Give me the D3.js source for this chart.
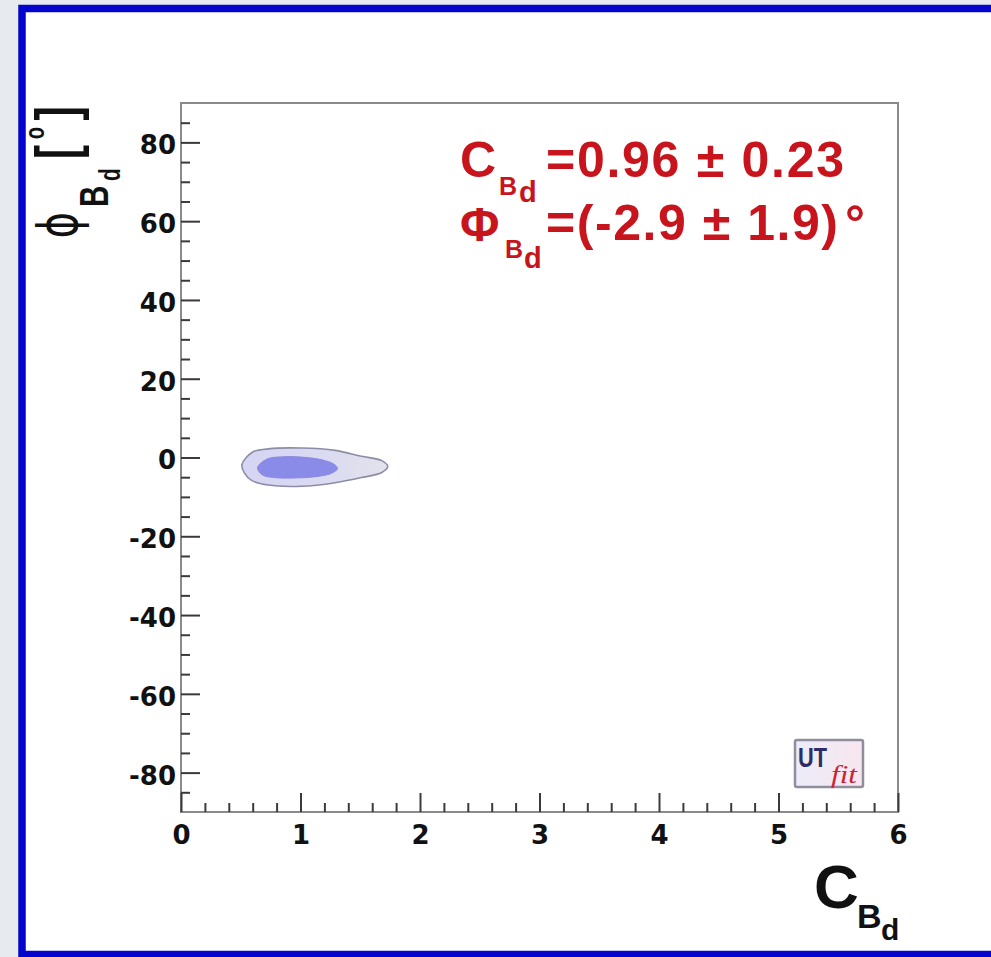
<!DOCTYPE html>
<html>
<head>
<meta charset="utf-8">
<script src="https://cdn.jsdelivr.net/npm/d3@7"></script>
<style>
  html, body { margin: 0; padding: 0; background: #e7eaef; }
  svg { display: block; }
</style>
</head>
<body>
<svg id="chart" width="991" height="957" font-family="'Liberation Sans', Arial, Helvetica, sans-serif"></svg>
<script>
// Axis ranges and tick values
const xDomain = [0, 6];
const yDomain = [-90, 90];
const xMajorTicks = [0, 1, 2, 3, 4, 5, 6];
const yMajorTicks = [-80, -60, -40, -20, 0, 20, 40, 60, 80];
const xMinorStep = 0.2;
const yMinorStep = 5;

// 95% probability region (outer contour) in (C_Bd, phi_Bd [deg])
const outerC   = [0.51, 0.60, 0.73, 1.01, 1.29, 1.51, 1.68, 1.73, 1.68, 1.51, 1.29, 1.01, 0.73, 0.59, 0.53];
const outerPhi = [-1.8, 1.4, 2.2, 2.4, 1.8, 0.3, -0.8, -2.3, -3.8, -5.1, -6.4, -7.3, -7.0, -5.8, -3.9];

// 68% probability region (inner contour)
const innerC   = [0.64, 0.72, 0.87, 1.01, 1.18, 1.28, 1.31, 1.26, 1.12, 0.95, 0.78, 0.68];
const innerPhi = [-2.6, -0.4, 0.2, 0.1, -0.6, -1.7, -2.8, -4.0, -4.9, -5.2, -5.1, -4.4];

// Fit results printed on the plot
const cValue = "0.96", cError = "0.23";
const phiValue = "-2.9", phiError = "1.9";

const SANS = "'Liberation Sans', Arial, Helvetica, sans-serif";
const WIDE = "'DejaVu Sans', sans-serif";
const SERIF = "'Liberation Serif', 'DejaVu Serif', serif";

const svg = d3.select("#chart");

// Page panel with blue border
svg.append("rect")
  .attr("x", 22).attr("y", 8.5)
  .attr("width", 1000).attr("height", 946)
  .attr("fill", "#ffffff")
  .attr("stroke", "#0404cc")
  .attr("stroke-width", 7.5);

const x = d3.scaleLinear().domain(xDomain).range([181, 898]);
const y = d3.scaleLinear().domain(yDomain).range([812, 103]);

// Gradients for the outer region and the logo box
const defs = svg.append("defs");
const g1 = defs.append("linearGradient").attr("id", "outerFill")
  .attr("x1", "0%").attr("x2", "100%").attr("y1", "0%").attr("y2", "0%");
g1.append("stop").attr("offset", "0%").attr("stop-color", "#d5d5f4");
g1.append("stop").attr("offset", "55%").attr("stop-color", "#dadaf2");
g1.append("stop").attr("offset", "100%").attr("stop-color", "#e3e3ea");
const g2 = defs.append("linearGradient").attr("id", "logoFill")
  .attr("x1", "0%").attr("x2", "100%").attr("y1", "0%").attr("y2", "0%");
g2.append("stop").attr("offset", "0%").attr("stop-color", "#ececf8");
g2.append("stop").attr("offset", "100%").attr("stop-color", "#f8e6ee");

// Probability regions
const region = d3.line()
  .x(d => x(d[0]))
  .y(d => y(d[1]))
  .curve(d3.curveCatmullRomClosed.alpha(0.5));

svg.append("path")
  .datum(d3.zip(outerC, outerPhi))
  .attr("d", region)
  .attr("fill", "url(#outerFill)")
  .attr("stroke", "#8c8ca8")
  .attr("stroke-width", 1.6);

svg.append("path")
  .datum(d3.zip(innerC, innerPhi))
  .attr("d", region)
  .attr("fill", "#8a8ae8")
  .attr("stroke", "#8a8ae0")
  .attr("stroke-width", 1);

// Frame
svg.append("rect")
  .attr("x", x(xDomain[0])).attr("y", y(yDomain[1]))
  .attr("width", x(xDomain[1]) - x(xDomain[0]))
  .attr("height", y(yDomain[0]) - y(yDomain[1]))
  .attr("fill", "none")
  .attr("stroke", "#8a8a8a")
  .attr("stroke-width", 2);

const xMinor = d3.range(xDomain[0], xDomain[1] + 1e-9, xMinorStep)
  .filter(v => Math.abs(v - Math.round(v)) > 1e-6 && v > 0 && v < 6);
const yMinor = d3.range(yDomain[0], yDomain[1] + 1e-9, yMinorStep)
  .filter(v => v % 20 !== 0 && v > yDomain[0] && v < yDomain[1]);

function styleAxis(g) {
  g.select(".domain").remove();
  g.selectAll(".tick line").attr("stroke", "#3a3a3a").attr("stroke-width", 2);
  g.selectAll(".tick text")
    .attr("fill", "#111")
    .style("font-size", "26px")
    .style("font-weight", "bold")
    .style("font-family", WIDE);
}
const plainInt = d => String(d);

// Bottom axis: ticks pointing inward
svg.append("g")
  .attr("transform", `translate(0,${y(yDomain[0])})`)
  .call(d3.axisBottom(x).tickValues(xMinor).tickSize(-9).tickFormat(""))
  .call(styleAxis);
svg.append("g")
  .attr("transform", `translate(0,${y(yDomain[0])})`)
  .call(d3.axisBottom(x).tickValues(xMajorTicks).tickSize(-19).tickPadding(14)
        .tickFormat(plainInt))
  .call(styleAxis);

// Left axis: ticks pointing inward
svg.append("g")
  .attr("transform", `translate(${x(xDomain[0])},0)`)
  .call(d3.axisLeft(y).tickValues(yMinor).tickSize(-9).tickFormat(""))
  .call(styleAxis);
svg.append("g")
  .attr("transform", `translate(${x(xDomain[0])},0)`)
  .call(d3.axisLeft(y).tickValues(yMajorTicks).tickSize(-19).tickPadding(5)
        .tickFormat(plainInt))
  .call(styleAxis)
  .selectAll(".tick text").attr("dy", "0.44em");

// X axis title: C_{B_d}
const xt = svg.append("g").attr("fill", "#111").style("font-weight", "bold")
  .style("font-family", SANS);
xt.append("text").attr("x", 814).attr("y", 908).style("font-size", "62px").text("C");
xt.append("text").attr("x", 857).attr("y", 928).style("font-size", "34px").text("B");
xt.append("text").attr("x", 881).attr("y", 940).style("font-size", "30px").text("d");

// Y axis title: phi_{B_d} [deg], reading upward
const yt = svg.append("g")
  .attr("transform", "translate(77,240) rotate(-90) scale(0.72,1)")
  .attr("fill", "#111")
  .style("font-family", SANS);
yt.append("text").attr("x", 2).attr("y", 0).style("font-size", "56px")
  .style("font-family", WIDE).text("ϕ");
yt.append("text").attr("x", 46).attr("y", 31).style("font-size", "41px")
  .style("font-weight", "bold").text("B");
yt.append("text").attr("x", 82).attr("y", 43).style("font-size", "29px")
  .style("font-weight", "bold").text("d");
yt.append("text").attr("x", 112).attr("y", 0).style("font-size", "60px")
  .style("font-weight", "bold").text("[");
yt.append("text").attr("x", 140).attr("y", -33).style("font-size", "28px")
  .style("font-weight", "bold").text("o");
yt.append("text").attr("x", 166).attr("y", 0).style("font-size", "60px")
  .style("font-weight", "bold").text("]");

// Fit result text
const red = "#c8141c";
const st = svg.append("g").attr("fill", red).style("font-weight", "bold")
  .style("font-family", SANS);
st.append("text").attr("x", 460).attr("y", 177).style("font-size", "50px").text("C");
st.append("text").attr("x", 499).attr("y", 195).style("font-size", "25px").text("B");
st.append("text").attr("x", 519).attr("y", 202).style("font-size", "29px").text("d");
st.append("text").attr("x", 546).attr("y", 177).style("font-size", "50px")
  .attr("textLength", 298).attr("lengthAdjust", "spacing")
  .text(`=${cValue} ± ${cError}`);
st.append("text").attr("x", 460).attr("y", 241).style("font-size", "48px").text("Φ");
st.append("text").attr("x", 505).attr("y", 258).style("font-size", "25px").text("B");
st.append("text").attr("x", 524).attr("y", 268).style("font-size", "29px").text("d");
st.append("text").attr("x", 546).attr("y", 240).style("font-size", "50px")
  .attr("textLength", 292).attr("lengthAdjust", "spacing")
  .text(`=(${phiValue} ± ${phiError})`);
st.append("text").attr("x", 845).attr("y", 240).style("font-size", "50px").text("°");

// UTfit logo
const logo = svg.append("g");
logo.append("rect")
  .attr("x", 795).attr("y", 740).attr("width", 68).attr("height", 47)
  .attr("rx", 2)
  .attr("fill", "url(#logoFill)")
  .attr("stroke", "#8e8e9e").attr("stroke-width", 2.5);
logo.append("text").attr("x", 798).attr("y", 767)
  .style("font-size", "28px").style("font-weight", "bold").style("font-family", SANS)
  .attr("fill", "#2c2c66")
  .attr("textLength", 29).attr("lengthAdjust", "spacingAndGlyphs").text("UT");
logo.append("text").attr("x", 831).attr("y", 783)
  .style("font-size", "25px").style("font-style", "italic").style("font-family", SERIF)
  .attr("fill", "#cc2233")
  .attr("textLength", 26).attr("lengthAdjust", "spacingAndGlyphs").text("fit");
</script>
</body>
</html>
